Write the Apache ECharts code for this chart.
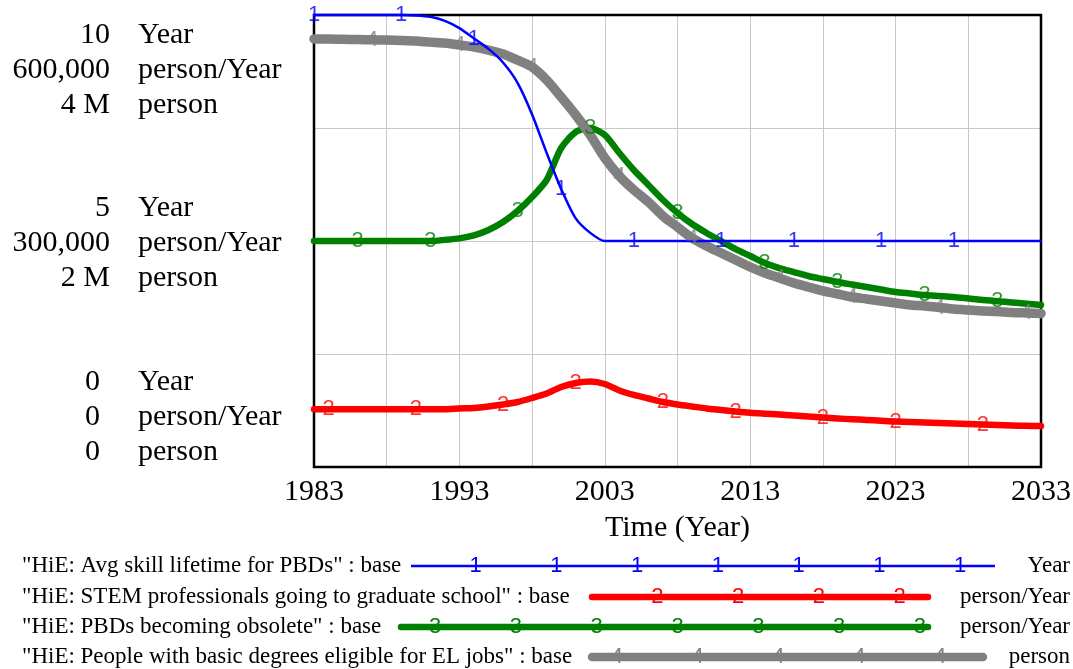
<!DOCTYPE html>
<html><head><meta charset="utf-8">
<script src="https://cdn.jsdelivr.net/npm/echarts@6/dist/echarts.min.js"></script>
<style>html,body{margin:0;padding:0;background:#fff}#c{width:1073px;height:669px}</style>
</head><body><div id="c"></div>
<script>
// ---------------- data ----------------
const years = [1983,1984,1985,1986,1987,1988,1989,1990,1991,1992,1993,1994,1995,1996,1997,1998,1999,2000,2001,2002,2003,2004,2005,2006,2007,2008,2009,2010,2011,2012,2013,2014,2015,2016,2017,2018,2019,2020,2021,2022,2023,2024,2025,2026,2027,2028,2029,2030,2031,2032,2033];
// "HiE: Avg skill lifetime for PBDs" (Year)
const skillLifetime = [10,10,10,10,10,10,10,9.99,9.96,9.87,9.71,9.48,9.25,8.95,8.5,7.8,6.95,6.15,5.5,5.18,5,5,5,5,5,5,5,5,5,5,5,5,5,5,5,5,5,5,5,5,5,5,5,5,5,5,5,5,5,5,5];
// "HiE: STEM professionals going to graduate school" (person/Year)
const gradSchool = [76600,76600,76600,76600,76600,76600,76600,76600,76600,76600,77600,78300,80300,83000,86300,91600,97600,106200,111500,113500,110200,101600,95600,90900,86300,83000,80300,77700,75700,73700,72000,70800,69700,68400,67000,65700,64400,63400,62400,61400,60400,59700,59100,58400,57700,57100,56400,55800,55100,54700,54400];
// "HiE: PBDs becoming obsolete" (person/Year)
const obsolete = [300000,300000,300000,300000,300000,300000,300000,300000,300000,301500,303500,307500,314600,325200,339800,358400,381000,423400,444700,450000,440700,416800,394200,374300,354400,337200,322500,310700,300000,289300,280100,270800,264100,258800,253500,249500,245600,242200,238900,235600,232300,230300,228300,227000,225700,223700,221700,220100,218400,216700,215000];
// "HiE: People with basic degrees eligible for EL jobs" (person)
const eligible = [3788000,3788000,3785000,3783000,3780000,3779000,3775000,3770000,3760000,3752000,3735000,3717000,3690000,3655000,3600000,3540000,3425000,3274000,3115000,2938000,2735000,2575000,2451000,2345000,2221000,2124000,2027000,1956000,1894000,1832000,1770000,1717000,1673000,1628000,1593000,1558000,1531000,1504000,1487000,1469000,1451000,1434000,1425000,1412000,1398000,1389000,1381000,1376000,1367000,1363000,1358000];

const yearTicks = ['0', '5', '10'];
const flowTicks = ['0', '300,000', '600,000'];
const stockTicks = ['0', '2 M', '4 M'];
const axisUnits = ['Year', 'person/Year', 'person'];
const tickValues = [0, 5, 10];

const seriesNames = [
  '"HiE: Avg skill lifetime for PBDs" : base',
  '"HiE: STEM professionals going to graduate school" : base',
  '"HiE: PBDs becoming obsolete" : base',
  '"HiE: People with basic degrees eligible for EL jobs" : base'
];
const seriesUnits = ['Year', 'person/Year', 'person/Year', 'person'];
const markerDigits = ['1', '2', '3', '4'];

// ---------------- style ----------------
const SERIF = '"Liberation Serif", "Times New Roman", serif';
const SANS = '"Liberation Sans", Arial, sans-serif';
const colors = ['#0000ff', '#ff0000', '#008000', '#808080'];
const widths = [2.5, 6.5, 6.5, 9.5];
const zs = [6, 5, 3, 4];
const yIdx = [0, 1, 1, 2];
const values = [skillLifetime, gradSchool, obsolete, eligible];

const chart = echarts.init(document.getElementById('c'), null, { renderer: 'canvas' });

const nSteps = years.length - 1;
const period = nSteps / 9;
function markerPositions(s) {
  const out = [];
  for (let k = 0; k <= 8; k++) out.push(s * period / 4 + k * period);
  return out;
}

const series = [];
values.forEach((arr, s) => {
  series.push({
    type: 'line', name: seriesNames[s], yAxisIndex: yIdx[s], z: zs[s],
    data: years.map((y, i) => [y, arr[i]]),
    showSymbol: false, symbol: 'none', clip: false, silent: true,
    smooth: 0.25,
    lineStyle: { color: colors[s], width: widths[s], cap: 'round', join: 'round' }
  });
  const idx = markerPositions(s).map(p => Math.round(p)).filter(i => i <= nSteps);
  series.push({
    type: 'scatter', yAxisIndex: yIdx[s], z: 10, silent: true,
    data: idx.map(i => [years[i], arr[i]]),
    symbol: 'circle', symbolSize: 1, itemStyle: { color: 'rgba(0,0,0,0)' },
    label: { show: true, position: 'inside', formatter: markerDigits[s], color: colors[s],
             fontSize: 22, fontFamily: SANS }
  });
});

const labelBase = { fontSize: 30, lineHeight: 35, fontFamily: SERIF, color: '#000', verticalAlign: 'middle' };

chart.setOption({
  animation: false,
  backgroundColor: '#fff',
  grid: { left: 314, right: 32, top: 15, bottom: 202, show: false, outerBoundsMode: 'none' },
  xAxis: {
    type: 'value', min: 1983, max: 2033, interval: 5,
    axisLine: { show: false },
    axisTick: { show: false },
    splitLine: { show: true, lineStyle: { color: '#c8c8c8', width: 1 } },
    axisLabel: { showMinLabel: true, showMaxLabel: true, margin: 10, fontSize: 30, fontFamily: SERIF, color: '#000',
                 formatter: v => ((v - years[0]) % 10 === 0 ? String(v) : '') },
    name: 'Time (Year)', nameLocation: 'middle', nameGap: 46,
    nameTextStyle: { fontSize: 30, fontFamily: SERIF, color: '#000' }
  },
  yAxis: [
    { type: 'value', min: 0, max: 10, interval: 2.5, axisLine: { show: false }, axisTick: { show: false },
      axisLabel: { show: false }, splitLine: { show: true, lineStyle: { color: '#c8c8c8', width: 1 } } },
    { type: 'value', min: 0, max: 600000, show: false, splitLine: { show: false } },
    { type: 'value', min: 0, max: 4000000, show: false, splitLine: { show: false } },
    { type: 'value', min: -1.441, max: 11.585, position: 'left', axisLine: { show: false }, axisTick: { show: false },
      splitLine: { show: false },
      axisLabel: Object.assign({}, labelBase, {
        customValues: tickValues, margin: 204, align: 'right',
        formatter: v => {
          const i = tickValues.indexOf(Math.round(v));
          if (i < 0) return '';
          if (i === 0) return '{z|' + yearTicks[0] + '}\n{z|' + flowTicks[0] + '}\n{z|' + stockTicks[0] + '}';
          return yearTicks[i] + '\n' + flowTicks[i] + '\n' + stockTicks[i];
        },
        rich: { z: { fontSize: 30, lineHeight: 35, fontFamily: SERIF, color: '#000', padding: [0, 10, 0, 0] } }
      }) },
    { type: 'value', min: -1.441, max: 11.585, position: 'left', axisLine: { show: false }, axisTick: { show: false },
      splitLine: { show: false },
      axisLabel: Object.assign({}, labelBase, {
        customValues: tickValues, margin: 176, align: 'left',
        formatter: v => (tickValues.indexOf(Math.round(v)) < 0 ? '' : axisUnits.join('\n'))
      }) }
  ],
  series: series
});

// ---------------- plot frame + legend (Vensim style) ----------------
const pA = chart.convertToPixel({ xAxisIndex: 0, yAxisIndex: 0 }, [years[0], 0]);
const pB = chart.convertToPixel({ xAxisIndex: 0, yAxisIndex: 0 }, [years[nSteps], 10]);
const graphic = [{
  type: 'rect', z: 1, silent: true,
  shape: { x: pA[0], y: pB[1], width: pB[0] - pA[0], height: pA[1] - pB[1] },
  style: { fill: 'none', stroke: '#000', lineWidth: 2.5 }
}];
const rowY = [566, 597, 627, 657];
const lineSpan = [[411, 995], [592, 928], [401, 928], [592, 983]];
seriesNames.forEach((name, s) => {
  graphic.push({ type: 'text', x: 22, y: rowY[s], silent: true,
    style: { text: name, font: '23px ' + SERIF, fill: '#000', align: 'left', verticalAlign: 'middle' } });
  graphic.push({ type: 'line', silent: true,
    shape: { x1: lineSpan[s][0], y1: rowY[s], x2: lineSpan[s][1], y2: rowY[s] },
    style: { stroke: colors[s], lineWidth: s === 3 ? 8.5 : widths[s], lineCap: s === 0 ? 'butt' : 'round' } });
  markerPositions(s).forEach(p => {
    const px = chart.convertToPixel({ xAxisIndex: 0 }, years[0] + p);
    if (px > lineSpan[s][0] + 12 && px < lineSpan[s][1]) {
      graphic.push({ type: 'text', x: px, y: rowY[s], silent: true,
        style: { text: markerDigits[s], font: '22px ' + SANS, fill: colors[s], align: 'center', verticalAlign: 'middle' } });
    }
  });
  graphic.push({ type: 'text', x: 1070, y: rowY[s], silent: true,
    style: { text: seriesUnits[s], font: '23px ' + SERIF, fill: '#000', align: 'right', verticalAlign: 'middle' } });
});
chart.setOption({ graphic: graphic });
</script>
</body></html>
